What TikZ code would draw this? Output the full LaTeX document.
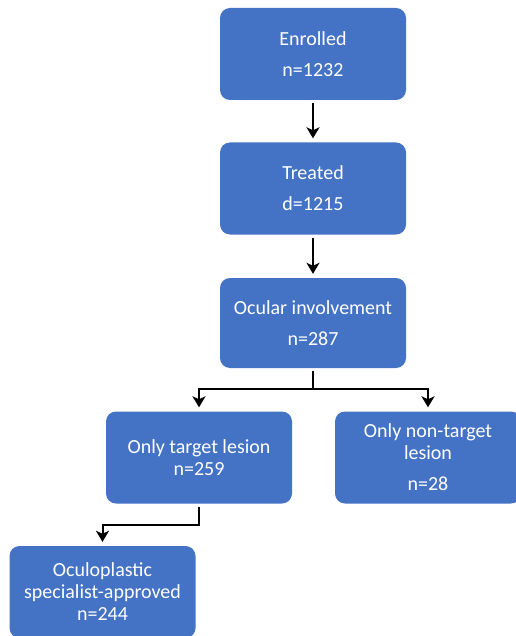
\documentclass[tikz,border=0pt]{standalone}
\usepackage{fontspec}
\setmainfont{Carlito}
\usetikzlibrary{arrows.meta}
\definecolor{boxblue}{HTML}{4472C4}
\tikzset{
  stepbox/.style={rectangle, rounded corners=10pt, fill=boxblue, text=white,
    minimum width=186pt, minimum height=92pt, align=center, inner sep=0pt,
    font=\fontsize{20}{22}\selectfont},
  arr/.style={-{Stealth[length=11pt,width=13pt,inset=3pt]}, line width=2pt, shorten <=3pt, shorten >=4pt},
  link/.style={line width=2pt, shorten <=3pt}
}
\begin{document}
\begin{tikzpicture}[x=1pt, y=-1pt]
  % --- page size of the figure (in px, y runs downwards) ---
  \useasboundingbox (0,0) rectangle (515,636);
  % --- main column ---
  \node[stepbox] (enrolled) at (313,54) {Enrolled\\[9pt]n=1232};
  \node[stepbox] (treated) at (313,188.5) {Treated\\[9pt]d=1215};
  \node[stepbox, minimum height=90pt] (ocular) at (313,323) {Ocular involvement\\[9pt]n=287};
  % --- split into the two lesion groups ---
  \node[stepbox] (target) at (199,457.5) {Only target lesion\\n=259};
  \node[stepbox] (nontarget) at (428,457.5) {Only non-target\\lesion\\[9pt]n=28};
  \node[stepbox] (specialist) at (102.5,592) {Oculoplastic\\specialist-approved\\n=244};
  % connectors
  \draw[arr] (enrolled) -- (treated);
  \draw[arr] (treated) -- (ocular);
  \draw[link] (ocular.south) -- ++(0,21) coordinate (split);
  \draw[arr, shorten <=0pt] (split) -| (target);
  \draw[arr, shorten <=0pt] (split) -| (nontarget);
  \draw[arr] (target.south) -- ++(0,21) -| (specialist);
\end{tikzpicture}
\end{document}
